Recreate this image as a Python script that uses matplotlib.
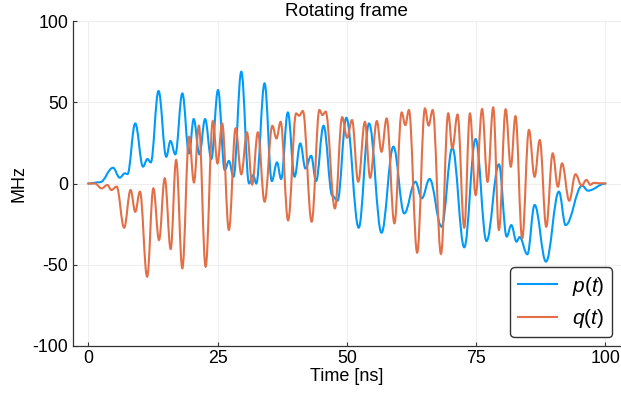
import matplotlib
matplotlib.use("Agg")
import matplotlib.pyplot as plt
from matplotlib.path import Path
from matplotlib.patches import PathPatch
from matplotlib.lines import Line2D

plt.rcParams['font.family'] = ['Liberation Sans', 'DejaVu Sans']
plt.rcParams['mathtext.fontset'] = 'custom'
plt.rcParams['mathtext.it'] = 'Liberation Sans:italic'
plt.rcParams['mathtext.rm'] = 'Liberation Sans'
plt.rcParams['axes.unicode_minus'] = False

# turning points of the two pulses (time in ns, value in MHz)
p_t = [0, 2.3, 4.8, 6.1, 7.1, 7.6, 9.1, 10.6, 11.45, 12.1, 13.6, 15.1, 15.9, 16.85,
       18.2, 19.5, 20.4, 21.5, 22.6, 23.8, 25.1, 26.4, 27.2, 28.1, 29.6, 31.1, 31.9,
       32.5, 34.1, 35.5, 36.5, 37.3, 38.6, 39.9, 41.0, 42.0, 43.1, 44.05, 45.5, 47.2,
       48.2, 49.9, 52.3, 54.3, 56.7, 59.0, 61.1, 63.25, 64.5, 66.0, 68.3, 70.4, 72.7,
       74.9, 77.0, 79.4, 80.9, 81.8, 82.8, 83.4, 84.9, 86.3, 88.5, 91.0, 92.3, 95.5,
       96.6, 100]
p_v = [0, 0.8, 9.7, 3.6, 6.3, 5.8, 37, 10.4, 15.1, 13, 57, 16.5, 26.2, 18,
       55.5, 18.6, 39.7, 18, 39.7, 15.1, 57.6, 8.3, 13.9, 4.2, 68.9, 0.1, 5.2,
       0, 61.7, 1.5, 13, 2.8, 43.8, 4.2, 24.7, 9.3, 17.1, 1.5, 35.6, -7.5,
       -10.6, 40.5, -27.2, 37, -30.3, 22.7, -18.4, 1.1, -9.1, 2.8, -26.6, 22, -39.3,
       27.4, -35.4, 11.8, -32.7, -25.6, -35.8, -33, -43.6, -13.2, -48.1, -5.0, -25.6, -1.3,
       -4.4, 0]

q_t = [0, 1.3, 2.6, 3.7, 4.5, 5.5, 6.95, 8.2, 9.1, 10.0, 11.4, 12.6, 13.7, 14.8,
       15.95, 17.0, 18.2, 19.5, 20.45, 21.4, 22.7, 24.1, 25.0, 25.9, 27.2, 28.5, 29.6,
       30.7, 31.7, 32.8, 34.1, 35.6, 36.4, 37.2, 38.65, 40.2, 40.8, 41.5, 43.2, 44.7,
       45.3, 45.9, 47.7, 49.1, 50.05, 51.0, 52.2, 53.5, 54.5, 55.8, 56.7, 57.7, 59.2,
       60.6, 61.3, 62.0, 63.6, 65.1, 65.8, 66.6, 68.2, 69.6, 70.4, 71.4, 72.7, 73.8,
       74.9, 76.15, 77.2, 78.3, 79.4, 80.7, 81.7, 82.6, 83.9, 85.2, 86.3, 87.3, 88.55,
       89.8, 90.8, 91.6, 93.0, 94.2, 95.4, 96.3, 97.1, 97.7, 100]
q_v = [0, 0, -3, -0.9, -4, -1.9, -27.2, -4, -17.4, -5, -57.4, -3, -34.8, 3.2,
       -40.3, 14.5, -52.2, 28.8, 0.7, 35.6, -51.2, 38.5, 12.4, 37, -28.6, 34, 5.7,
       31.5, -0.6, 31.5, -11.2, 35.6, 27.8, 38, -22.7, 43.2, 41.8, 44.7, -23.5, 45.3,
       42.2, 44.3, -15.3, 40.9, 28.2, 39.1, 1.1, 38, 3.5, 38.5, 19.6, 40.1, -24.5,
       43.8, 36, 45.3, -42.6, 46.3, 35.7, 45.3, -43.4, 43.2, 21.7, 42.5, -27.2, 43.2,
       -7.1, 45.9, 1.1, 46.9, -28.6, 45.7, 10.4, 41.5, -33.8, 33, 4.2, 26.8, -26.6,
       18.6, -2.0, 12.4, -10.6, 5.7, -1.3, 2.2, -0.8, 0.4, 0]

labels = ['$p(t)$', '$q(t)$']
colors = ['#009AFA', '#E36F47']


def smooth_path(ts, vs, k=0.38):
    # cubic segments with flat tangents at every turning point
    verts = [(ts[0], vs[0])]
    codes = [Path.MOVETO]
    for i in range(len(ts) - 1):
        dx = ts[i + 1] - ts[i]
        verts += [(ts[i] + k * dx, vs[i]), (ts[i + 1] - k * dx, vs[i + 1]), (ts[i + 1], vs[i + 1])]
        codes += [Path.CURVE4] * 3
    return Path(verts, codes)


fig = plt.figure(figsize=(6.21, 3.93), dpi=100)
ax = fig.add_axes([0.117, 0.12, 0.883, 0.826])

for ts, vs, c in [(p_t, p_v, colors[0]), (q_t, q_v, colors[1])]:
    ax.add_patch(PathPatch(smooth_path(ts, vs), facecolor='none', edgecolor=c,
                           lw=1.5, transform=ax.transData, capstyle='round'))

ax.set_xlim(-3, 103)
ax.set_ylim(-100, 100)
ax.set_xticks([0, 25, 50, 75, 100])
ax.set_yticks([-100, -50, 0, 50, 100])
ax.grid(True, color='#eeeeee', lw=0.8)
ax.set_axisbelow(True)
for s in ['top', 'right']:
    ax.spines[s].set_visible(False)
for s in ['left', 'bottom']:
    ax.spines[s].set_color('#333333')
    ax.spines[s].set_linewidth(0.9)
ax.tick_params(direction='in', length=3, width=0.8, color='#333333', labelsize=12.8, pad=3)
ax.set_xlabel('Time [ns]', fontsize=13, labelpad=1)
ax.set_ylabel('MHz', fontsize=13, labelpad=4)
ax.set_title('Rotating frame', fontsize=13.5, pad=4)

handles = [Line2D([], [], color=c, lw=1.5) for c in colors]
ax.legend(handles, labels, loc='lower right', bbox_to_anchor=(611.7 / 621, 1 - 337.3 / 393),
          bbox_transform=fig.transFigure, borderaxespad=0, fontsize=15, handlelength=1.9,
          handletextpad=0.7, borderpad=0.35, labelspacing=0.45, fancybox=True,
          framealpha=1, edgecolor='#333333')

fig.savefig('out.png', dpi=100)
